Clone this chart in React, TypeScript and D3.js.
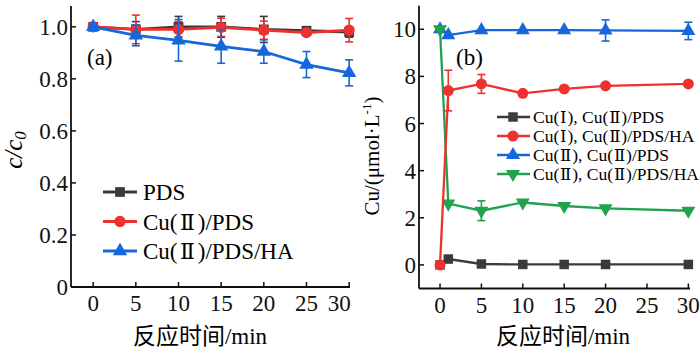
import React from "react";
import * as d3 from "d3";

// ---------- Panel (a) data ----------
const timeA = [0, 5, 10, 15, 20, 25, 30];
const pdsA = [1.0, 0.99, 1.0, 1.0, 0.99, 0.985, 0.98];
const pdsErrA = [0.005, 0.03, 0.04, 0.04, 0.05, 0.01, 0.02];
const cuPdsA = [1.0, 0.99, 0.99, 0.998, 0.987, 0.978, 0.987];
const cuPdsErrA = [0.005, 0.055, 0.03, 0.035, 0.035, 0.01, 0.045];
const cuPdsHaA = [1.0, 0.967, 0.948, 0.925, 0.905, 0.855, 0.823];
const cuPdsHaErrA = [0.005, 0.04, 0.08, 0.065, 0.045, 0.05, 0.05];
const legendA = ["PDS", "Cu(Ⅱ)/PDS", "Cu(Ⅱ)/PDS/HA"];
const xTicksA = [0, 5, 10, 15, 20, 25, 30];
const yTicksA = [0, 0.2, 0.4, 0.6, 0.8, 1.0];

// ---------- Panel (b) data ----------
const timeB = [0, 1, 5, 10, 15, 20, 30];
const cu1PdsB = [0, 0.25, 0.04, 0.02, 0.02, 0.02, 0.02];
const cu1PdsErrB = [0, 0, 0, 0, 0, 0, 0];
const cu1PdsHaB = [0, 7.4, 7.68, 7.28, 7.47, 7.6, 7.68];
const cu1PdsHaErrB = [0, 0.86, 0.4, 0, 0, 0, 0];
const cu2PdsB = [10, 9.75, 9.96, 9.96, 9.96, 9.95, 9.93];
const cu2PdsErrB = [0, 0, 0, 0, 0, 0.45, 0.37];
const cu2PdsHaB = [10, 2.6, 2.3, 2.65, 2.5, 2.4, 2.3];
const cu2PdsHaErrB = [0, 0, 0.42, 0, 0, 0, 0];
const legendB = [
  "Cu(Ⅰ), Cu(Ⅱ)/PDS",
  "Cu(Ⅰ), Cu(Ⅱ)/PDS/HA",
  "Cu(Ⅱ), Cu(Ⅱ)/PDS",
  "Cu(Ⅱ), Cu(Ⅱ)/PDS/HA",
];
const xTicksB = [0, 5, 10, 15, 20, 25, 30];
const yTicksB = [0, 2, 4, 6, 8, 10];

const BLACK = "#3a3a3a";
const RED = "#f0302e";
const BLUE = "#1667dc";
const GREEN = "#21a24f";
const FONT = "'Liberation Serif', 'Times New Roman', 'Noto Sans CJK SC', serif";
const NUM_FONT = "'DejaVu Serif', 'Liberation Serif', serif";
const FS = 23;

type Series = {
  name: string;
  x: number[];
  y: number[];
  err: number[];
  color: string;
  symbol: d3.SymbolType;
  size: number;
};

// render roman numerals with a font that carries narrow glyphs for them
function Label({ text, gap }: { text: string; gap: string }) {
  const parts = text.split(/([ⅠⅡ])/);
  return (
    <>
      {parts.map((p, i) =>
        p === "Ⅰ" || p === "Ⅱ" ? (
          <tspan key={i} fontFamily={NUM_FONT} fontSize="0.95em" dx={gap}>
            {p}
          </tspan>
        ) : (
          <tspan key={i} dx={i > 0 ? gap : undefined}>
            {p}
          </tspan>
        )
      )}
    </>
  );
}

function Marker({ cx, cy, s }: { cx: number; cy: number; s: Series }) {
  const path = d3.symbol().type(s.symbol).size(s.size)() as string;
  return <path d={path} transform={`translate(${cx},${cy})`} fill={s.color} />;
}

function SeriesMarks({
  s,
  xs,
  ys,
  lw,
}: {
  s: Series;
  xs: d3.ScaleLinear<number, number>;
  ys: d3.ScaleLinear<number, number>;
  lw: number;
}) {
  const line = d3
    .line<number>()
    .x((_, i) => xs(s.x[i]))
    .y((d) => ys(d));
  return (
    <g>
      <path d={line(s.y) as string} fill="none" stroke={s.color} strokeWidth={lw} />
      {s.y.map((v, i) =>
        s.err[i] > 0.006 ? (
          <g key={"e" + i} stroke={s.color} strokeWidth={1.6}>
            <line x1={xs(s.x[i])} x2={xs(s.x[i])} y1={ys(v - s.err[i])} y2={ys(v + s.err[i])} />
            <line x1={xs(s.x[i]) - 4} x2={xs(s.x[i]) + 4} y1={ys(v - s.err[i])} y2={ys(v - s.err[i])} />
            <line x1={xs(s.x[i]) - 4} x2={xs(s.x[i]) + 4} y1={ys(v + s.err[i])} y2={ys(v + s.err[i])} />
          </g>
        ) : null
      )}
      {s.y.map((v, i) => (
        <Marker key={"m" + i} cx={xs(s.x[i])} cy={ys(v)} s={s} />
      ))}
    </g>
  );
}

function Axes({
  xs,
  ys,
  xTicks,
  yTicks,
  yFmt,
  lastDx,
}: {
  xs: d3.ScaleLinear<number, number>;
  ys: d3.ScaleLinear<number, number>;
  xTicks: number[];
  yTicks: number[];
  yFmt: (d: number) => string;
  lastDx: number;
}) {
  const [x0, x1] = xs.range();
  const [y0, y1] = ys.range();
  return (
    <g fontFamily={FONT} fontSize={FS} fill="#111">
      <line x1={x0} x2={x1} y1={y0} y2={y0} stroke="#111" strokeWidth={1.8} />
      <line x1={x0} x2={x0} y1={y0} y2={y1} stroke="#111" strokeWidth={1.8} />
      {xTicks.map((t, i) => (
        <g key={"x" + t}>
          <line x1={xs(t)} x2={xs(t)} y1={y0} y2={y0 - 5} stroke="#111" strokeWidth={1.5} />
          <text x={xs(t) + (i === xTicks.length - 1 ? lastDx : 0)} y={y0 + 24} textAnchor="middle">
            {t}
          </text>
        </g>
      ))}
      {yTicks.map((t) => (
        <g key={"y" + t}>
          <line x1={x0} x2={x0 + 5} y1={ys(t)} y2={ys(t)} stroke="#111" strokeWidth={1.5} />
          <text x={x0 - 3} y={ys(t)} dy="0.35em" textAnchor="end">
            {yFmt(t)}
          </text>
        </g>
      ))}
    </g>
  );
}

export default function App() {
  const xA = d3.scaleLinear().domain([-2.6, 30.1]).range([71, 350]);
  const yA = d3.scaleLinear().domain([0, 1.08]).range([287, 6]);
  const xB = d3.scaleLinear().domain([-2.54, 30.2]).range([419, 690]);
  const yB = d3.scaleLinear().domain([-1, 11]).range([288.5, 5.7]);

  const seriesA: Series[] = [
    { name: legendA[0], x: timeA, y: pdsA, err: pdsErrA, color: BLACK, symbol: d3.symbolSquare, size: 95 },
    { name: legendA[1], x: timeA, y: cuPdsA, err: cuPdsErrA, color: RED, symbol: d3.symbolCircle, size: 100 },
    { name: legendA[2], x: timeA, y: cuPdsHaA, err: cuPdsHaErrA, color: BLUE, symbol: d3.symbolTriangle, size: 90 },
  ];
  const triDown = {
    draw(ctx: any, size: number) {
      const y = -Math.sqrt(size / (Math.sqrt(3) * 3));
      ctx.moveTo(0, -y * 2);
      ctx.lineTo(-Math.sqrt(3) * y, y);
      ctx.lineTo(Math.sqrt(3) * y, y);
      ctx.closePath();
    },
  } as d3.SymbolType;
  const seriesB: Series[] = [
    { name: legendB[0], x: timeB, y: cu1PdsB, err: cu1PdsErrB, color: BLACK, symbol: d3.symbolSquare, size: 90 },
    { name: legendB[1], x: timeB, y: cu1PdsHaB, err: cu1PdsHaErrB, color: RED, symbol: d3.symbolCircle, size: 95 },
    { name: legendB[2], x: timeB, y: cu2PdsB, err: cu2PdsErrB, color: BLUE, symbol: d3.symbolTriangle, size: 85 },
    { name: legendB[3], x: timeB, y: cu2PdsHaB, err: cu2PdsHaErrB, color: GREEN, symbol: triDown, size: 85 },
  ];
  const drawOrderB = [2, 3, 0, 1];

  return (
    <svg
      width={700}
      height={350}
      style={{ position: "absolute", left: 0, top: 0, background: "#fff" }}
    >
      {/* Panel (a) */}
      <Axes xs={xA} ys={yA} xTicks={xTicksA} yTicks={yTicksA} yFmt={(d) => (d === 0 ? "0" : d.toFixed(1))} lastDx={-10} />
      {seriesA.map((s) => (
        <SeriesMarks key={s.name} s={s} xs={xA} ys={yA} lw={2.8} />
      ))}
      <text x={87} y={65} fontFamily={FONT} fontSize={FS}>(a)</text>
      <text
        transform="translate(22,150) rotate(-90)"
        textAnchor="middle"
        fontFamily={FONT}
        fontSize={25}
        fontStyle="italic"
      >
        c/c<tspan fontSize={17} dy={4}>0</tspan>
      </text>
      <text x={200} y={344} textAnchor="middle" fontFamily={FONT} fontSize={FS}>反应时间/min</text>
      {seriesA.map((s, i) => {
        const y = 192 + i * 29.5;
        return (
          <g key={"la" + i}>
            <line x1={103} x2={137} y1={y} y2={y} stroke={s.color} strokeWidth={2.8} />
            <Marker cx={120} cy={y} s={s} />
            <text x={143} y={y} dy="0.35em" fontFamily={FONT} fontSize={FS}>
              <Label text={s.name} gap="0.12em" />
            </text>
          </g>
        );
      })}

      {/* Panel (b) */}
      <Axes xs={xB} ys={yB} xTicks={xTicksB} yTicks={yTicksB} yFmt={(d) => String(d)} lastDx={0} />
      {drawOrderB.map((k) => (
        <SeriesMarks key={seriesB[k].name} s={seriesB[k]} xs={xB} ys={yB} lw={2.3} />
      ))}
      <text x={456} y={65} fontFamily={FONT} fontSize={FS}>(b)</text>
      <text
        transform="translate(379,156) rotate(-90)"
        textAnchor="middle"
        fontFamily={FONT}
        fontSize={21}
      >
        Cu/(μmol·L<tspan fontSize={13} dy={-8}>-1</tspan><tspan dy={8}>)</tspan>
      </text>
      <text x={563} y={344} textAnchor="middle" fontFamily={FONT} fontSize={FS}>反应时间/min</text>
      {seriesB.map((s, i) => {
        const y = 117 + i * 19;
        return (
          <g key={"lb" + i}>
            <line x1={497} x2={530} y1={y} y2={y} stroke={s.color} strokeWidth={2.4} />
            <Marker cx={513} cy={y} s={s} />
            <text x={533} y={y} dy="0.35em" fontFamily={FONT} fontSize={17.5}>
              <Label text={s.name} gap="0.05em" />
            </text>
          </g>
        );
      })}
    </svg>
  );
}
